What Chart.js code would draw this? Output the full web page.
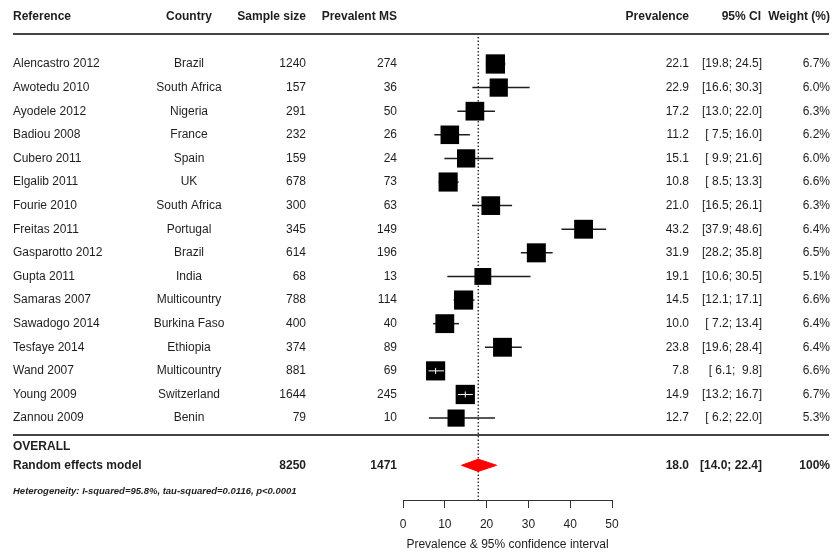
<!DOCTYPE html>
<html>
<head>
<meta charset="utf-8">
<script src="https://cdn.jsdelivr.net/npm/chart.js@4.4.0/dist/chart.umd.min.js"></script>
<style>
  html, body { margin: 0; padding: 0; background: #fff; }
</style>
</head>
<body>
<canvas id="chart" width="836" height="553"></canvas>
<script>
// ---- data ----
const studies = ["Alencastro 2012", "Awotedu 2010", "Ayodele 2012", "Badiou 2008", "Cubero 2011", "Elgalib 2011",
  "Fourie 2010", "Freitas 2011", "Gasparotto 2012", "Gupta 2011", "Samaras 2007", "Sawadogo 2014",
  "Tesfaye 2014", "Wand 2007", "Young 2009", "Zannou 2009"];
const countries = ["Brazil", "South Africa", "Nigeria", "France", "Spain", "UK", "South Africa", "Portugal",
  "Brazil", "India", "Multicountry", "Burkina Faso", "Ethiopia", "Multicountry", "Switzerland", "Benin"];
const sampleSize = [1240, 157, 291, 232, 159, 678, 300, 345, 614, 68, 788, 400, 374, 881, 1644, 79];
const prevalentMS = [274, 36, 50, 26, 24, 73, 63, 149, 196, 13, 114, 40, 89, 69, 245, 10];
const prevalence = [22.1, 22.9, 17.2, 11.2, 15.1, 10.8, 21.0, 43.2, 31.9, 19.1, 14.5, 10.0, 23.8, 7.8, 14.9, 12.7];
const ciLow = [19.8, 16.6, 13.0, 7.5, 9.9, 8.5, 16.5, 37.9, 28.2, 10.6, 12.1, 7.2, 19.6, 6.1, 13.2, 6.2];
const ciHigh = [24.5, 30.3, 22.0, 16.0, 21.6, 13.3, 26.1, 48.6, 35.8, 30.5, 17.1, 13.4, 28.4, 9.8, 16.7, 22.0];
const weights = [6.7, 6.0, 6.3, 6.2, 6.0, 6.6, 6.3, 6.4, 6.5, 5.1, 6.6, 6.4, 6.4, 6.6, 6.7, 5.3];

const pooledN = 8250;
const pooledCases = 1471;
const pooledEst = 18.0;
const pooledLow = 14.0;
const pooledHigh = 22.4;
const pooledWeight = "100%";
const heterogeneity = "Heterogeneity: I-squared=95.8%, tau-squared=0.0116, p<0.0001";
const xTicks = [0, 10, 20, 30, 40, 50];

// ---- layout (row units on the hidden y scale) ----
const ROW_TOP = -2.71, ROW_BOTTOM = 18.47;
const OVERALL_ROW = studies.length + 0.2, MODEL_ROW = studies.length + 1;
const ink = "#1e1e1e";
const FONT = "'Liberation Sans', Arial, sans-serif";

const fmt = v => v.toFixed(1);
const pad = v => (v < 10 ? " " : "") + fmt(v);
const ciText = (lo, hi) => "[" + pad(lo) + "; " + (hi < 10 ? " " : "") + fmt(hi) + "]";
const boxRadius = w => 5.27 * Math.sqrt(w);

// CI whiskers, one small line dataset per study
const ciSets = studies.map((s, i) => ({
  data: [{ x: ciLow[i], y: i }, { x: ciHigh[i], y: i }],
  showLine: true, borderColor: ink, borderWidth: 1.5, pointRadius: 0, order: 2, clip: false
}));

const boxSet = {
  data: prevalence.map((p, i) => ({ x: p, y: i })),
  pointStyle: "rect", pointRadius: weights.map(boxRadius),
  backgroundColor: "#000", borderColor: "#000", borderWidth: 0, order: 0, clip: false
};

const refLine = {
  data: [{ x: pooledEst, y: -1.14 }, { x: pooledEst, y: ROW_BOTTOM }],
  showLine: true, borderColor: ink, borderWidth: 1.3, borderDash: [1.5, 2], pointRadius: 0, order: 3
};

const diamond = {
  data: [{ x: pooledLow, y: MODEL_ROW }, { x: pooledEst, y: MODEL_ROW - 0.26 }, { x: pooledHigh, y: MODEL_ROW },
    { x: pooledEst, y: MODEL_ROW + 0.26 }, { x: pooledLow, y: MODEL_ROW }],
  showLine: true, fill: "shape", backgroundColor: "#ff0000", borderColor: "#ff0000", borderWidth: 1,
  pointRadius: 0, order: 1
};

// white inner CI when the whole interval sits inside the box
const innerCi = {
  id: "innerCi",
  afterDatasetsDraw(chart) {
    const xs = chart.scales.x, ys = chart.scales.y, ctx = chart.ctx;
    ctx.save();
    ctx.strokeStyle = "#fff";
    ctx.lineWidth = 1;
    studies.forEach((s, i) => {
      const cx = xs.getPixelForValue(prevalence[i]);
      const half = boxRadius(weights[i]) * Math.SQRT1_2;
      const a = xs.getPixelForValue(ciLow[i]), b = xs.getPixelForValue(ciHigh[i]);
      if (a >= cx - half && b <= cx + half) {
        const y = ys.getPixelForValue(i);
        ctx.beginPath();
        ctx.moveTo(a, y); ctx.lineTo(b, y);
        ctx.moveTo(cx, y - 3); ctx.lineTo(cx, y + 3);
        ctx.stroke();
      }
    });
    ctx.restore();
  }
};

// table columns around the plot
const table = {
  id: "table",
  afterDraw(chart) {
    const ys = chart.scales.y, ctx = chart.ctx;
    const put = (t, x, row, align, font) => {
      ctx.font = font;
      ctx.textAlign = align;
      ctx.fillText(t, x, ys.getPixelForValue(row));
    };
    const reg = "12px " + FONT, bold = "bold 12px " + FONT;
    ctx.save();
    ctx.fillStyle = ink;
    ctx.textBaseline = "middle";

    put("Reference", 13, -1.99, "left", bold);
    put("Country", 189, -1.99, "center", bold);
    put("Sample size", 306, -1.99, "right", bold);
    put("Prevalent MS", 397, -1.99, "right", bold);
    put("Prevalence", 689, -1.99, "right", bold);
    put("95% CI", 761, -1.99, "right", bold);
    put("Weight (%)", 830, -1.99, "right", bold);

    studies.forEach((s, i) => {
      put(s, 13, i, "left", reg);
      put(countries[i], 189, i, "center", reg);
      put(String(sampleSize[i]), 306, i, "right", reg);
      put(String(prevalentMS[i]), 397, i, "right", reg);
      put(fmt(prevalence[i]), 689, i, "right", reg);
      put(ciText(ciLow[i], ciHigh[i]), 762, i, "right", reg);
      put(fmt(weights[i]) + "%", 830, i, "right", reg);
    });

    put("OVERALL", 13, OVERALL_ROW, "left", bold);
    put("Random effects model", 13, MODEL_ROW, "left", bold);
    put(String(pooledN), 306, MODEL_ROW, "right", bold);
    put(String(pooledCases), 397, MODEL_ROW, "right", bold);
    put(fmt(pooledEst), 689, MODEL_ROW, "right", bold);
    put(ciText(pooledLow, pooledHigh), 762, MODEL_ROW, "right", bold);
    put(pooledWeight, 830, MODEL_ROW, "right", bold);
    put(heterogeneity, 13, 18.09, "left", "italic bold 9.5px " + FONT);

    // rules
    ctx.strokeStyle = "#444";
    ctx.lineWidth = 2;
    let y = ys.getPixelForValue(-1.27);
    ctx.beginPath(); ctx.moveTo(13, y); ctx.lineTo(829, y); ctx.stroke();
    y = ys.getPixelForValue(15.72);
    ctx.beginPath(); ctx.moveTo(13, y); ctx.lineTo(829, y); ctx.stroke();
    ctx.restore();
  }
};

new Chart(document.getElementById("chart"), {
  type: "scatter",
  data: { datasets: [boxSet, diamond, ...ciSets, refLine] },
  options: {
    responsive: false,
    animation: false,
    layout: { autoPadding: false, padding: { left: 403, right: 224, top: 0, bottom: 0 } },
    plugins: { legend: { display: false }, tooltip: { enabled: false } },
    scales: {
      x: {
        type: "linear", min: 0, max: 50,
        afterBuildTicks: s => { s.ticks = xTicks.map(v => ({ value: v })); },
        afterFit: s => { s.height = 53; },
        border: { display: true, color: "#333", width: 1 },
        grid: { display: true, drawOnChartArea: false, drawTicks: true, tickLength: 8, color: "#333", tickWidth: 1 },
        ticks: { color: ink, font: { size: 12, family: FONT }, padding: 9, maxRotation: 0 },
        title: { display: true, text: "Prevalence & 95% confidence interval", color: ink,
          font: { size: 12, family: FONT }, padding: { top: 2, bottom: 1 } }
      },
      y: { type: "linear", display: false, reverse: true, min: ROW_TOP, max: ROW_BOTTOM }
    }
  },
  plugins: [innerCi, table]
});
</script>
</body>
</html>
